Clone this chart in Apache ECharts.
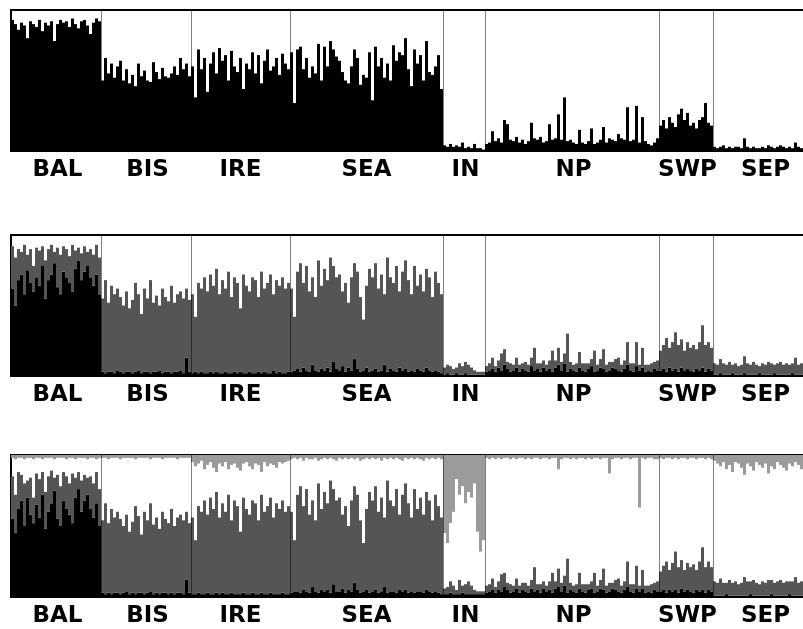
<!DOCTYPE html>
<html>
<head>
<meta charset="utf-8">
<script src="https://cdn.jsdelivr.net/npm/echarts@6/dist/echarts.min.js"></script>
<style>
  html, body { margin: 0; padding: 0; background: #fff; overflow: hidden; }
  #chart { width: 803px; height: 629px; }
</style>
</head>
<body>
<div id="chart"></div>
<script>
// populations, in plot order, and how many individuals each has
const pops = ['BAL', 'BIS', 'IRE', 'SEA', 'IN', 'NP', 'SWP', 'SEP'];
const popSizes = [30, 30, 33, 51, 14, 58, 18, 35];

// K=2 : membership (%) in the black cluster, per individual
const k2Black = [
  93,90,86,91,89,80,92,90,88,93,85,91,89,92,78,90,93,91,92,88,94,90,87,92,93,89,83,91,94,92,
  50,66,55,62,52,60,64,50,58,48,54,46,62,53,57,50,49,63,56,51,59,53,52,55,60,54,66,58,62,53,
  60,38,72,58,66,42,62,70,55,73,64,68,50,71,60,56,66,44,62,58,70,55,68,48,64,72,57,60,66,54,69,62,58,
  70,34,72,74,58,66,52,60,55,76,50,74,60,78,72,67,64,56,50,48,60,72,66,47,54,52,70,36,74,60,
  66,52,62,50,75,64,70,68,80,58,46,72,62,68,50,78,56,54,60,68,44,
  4,3,5,3,4,3,6,2,3,2,5,2,2,1,
  5,6,14,7,9,6,22,19,8,7,10,6,8,5,7,20,9,8,10,6,7,19,8,9,26,8,38,7,8,6,
  5,15,6,5,7,16,5,6,8,17,6,9,8,7,12,9,8,31,7,8,32,6,24,7,5,4,6,9,
  18,22,16,24,20,17,26,30,22,27,18,20,16,22,24,34,20,18,
  3,2,3,4,2,3,2,3,3,2,9,3,2,3,2,2,3,2,4,3,2,3,4,3,2,3,2,6,3,2,3,2,3,2,3
];

// K=3 : black and dark grey clusters (%)
const k3Black = [
  62,50,68,72,58,75,66,60,70,64,78,55,68,72,80,63,58,74,70,66,60,76,82,68,74,78,70,64,72,58,
  3,2,3,3,2,4,3,2,3,3,2,3,4,2,3,3,2,3,3,4,2,3,3,2,3,3,4,2,13,3,
  2,3,2,3,2,2,3,2,3,2,2,3,2,2,3,2,3,2,2,3,2,2,3,2,3,2,2,4,2,3,2,2,3,
  3,4,5,3,6,4,3,8,4,3,5,4,6,3,10,5,4,7,3,6,4,12,5,3,4,6,3,4,5,3,
  4,8,3,5,4,3,6,4,5,3,4,3,5,4,3,6,4,3,4,3,2,
  1,2,1,1,2,1,1,2,1,1,1,1,1,1,
  3,4,5,3,6,4,8,5,3,4,6,3,5,4,3,7,4,5,3,6,4,5,3,6,8,4,9,3,5,4,
  3,6,4,3,5,7,3,4,6,5,3,4,6,5,4,3,5,8,4,3,7,4,6,3,4,3,5,4,
  4,5,3,6,4,5,3,6,4,5,4,3,5,4,6,3,5,4,
  1,1,2,1,1,1,2,1,1,1,2,1,1,1,1,2,1,1,1,1,2,1,1,1,1,1,2,1,1,1,1,2,1,1,1
];
const k3Dark = [
  30,34,22,16,35,11,24,18,21,25,14,27,22,21,8,28,28,18,20,19,33,13,9,19,18,10,20,22,21,26,
  52,66,49,61,56,58,53,48,57,45,52,63,54,42,59,52,66,49,54,46,60,53,50,62,49,55,56,53,49,51,
  56,39,64,59,68,58,69,62,73,56,66,59,72,54,67,64,45,70,62,57,68,66,53,72,59,64,70,54,66,61,68,60,63,
  59,38,69,77,60,74,57,62,52,79,59,72,62,81,68,65,68,53,63,46,66,68,69,53,36,58,73,66,75,59,
  68,50,81,65,62,75,54,70,77,65,54,75,59,68,57,70,66,53,70,63,56,
  5,6,6,4,4,8,6,8,7,5,3,2,2,2,
  4,5,8,4,5,12,11,5,6,4,7,5,4,6,5,6,16,4,6,5,4,6,15,5,12,6,7,27,5,4,
  6,11,5,6,4,5,15,4,6,14,5,6,4,7,9,5,6,16,5,6,17,4,14,5,4,6,5,7,
  14,17,24,14,20,26,19,20,14,19,16,19,14,20,30,19,19,16,
  8,7,10,8,7,9,6,8,6,7,12,8,7,9,7,5,8,7,9,8,6,8,9,7,8,7,7,12,7,8,9,6,8,6,8
];

// K=4 : black, dark grey and light grey (top) clusters (%)
const k4Black = [
  55,45,62,68,50,70,58,52,65,56,72,48,60,66,75,55,50,68,62,58,52,70,76,60,68,72,62,56,66,50,
  3,2,3,2,3,3,2,3,4,2,3,2,3,3,2,3,4,2,3,2,3,3,2,3,2,3,3,2,12,3,
  2,2,3,2,2,3,2,2,3,2,3,2,2,3,2,2,2,3,2,2,3,2,2,3,2,2,3,2,2,2,3,2,2,
  3,4,4,3,5,4,3,7,4,3,5,4,5,3,9,4,4,6,3,5,4,10,5,3,4,5,3,4,5,3,
  4,7,3,4,4,3,5,4,5,3,4,3,4,4,3,5,4,3,4,3,2,
  2,2,3,2,2,2,3,2,2,2,2,2,2,2,
  3,4,5,3,5,4,7,5,3,4,6,3,5,4,3,6,4,5,3,6,4,5,3,6,7,4,8,3,5,4,
  3,6,4,3,5,6,3,4,6,5,3,4,6,5,4,3,5,7,4,3,6,4,6,3,4,3,5,4,
  4,5,3,5,4,5,3,6,4,5,4,3,5,4,5,3,5,4,
  1,1,1,1,2,1,1,1,1,1,1,1,2,1,1,1,1,1,1,2,1,1,1,1,1,2,1,1,1,1,1,1,2,1,1
];
const k4Dark = [
  30,27,26,18,30,12,26,18,22,27,16,26,25,23,9,31,28,20,23,22,35,14,12,22,18,12,23,24,22,26,
  51,64,49,60,53,57,53,47,54,44,50,62,54,41,58,51,62,49,53,46,57,52,50,59,48,53,55,52,48,49,
  54,38,61,58,66,55,68,60,71,54,63,58,70,51,66,62,44,67,60,56,65,64,52,69,58,62,67,54,64,60,65,58,62,
  57,36,68,75,59,72,55,61,50,77,57,70,61,79,67,64,66,52,61,45,64,68,67,51,34,57,71,64,73,57,
  66,49,79,64,60,73,53,68,75,63,52,73,58,66,55,69,64,51,68,61,54,
  4,5,8,6,3,10,5,7,9,6,3,2,2,2,
  5,5,8,4,6,12,10,5,6,4,7,5,5,6,5,6,17,4,6,5,4,6,14,5,13,6,7,24,5,4,
  6,11,5,6,4,5,14,4,6,15,5,6,4,7,9,5,6,18,5,6,16,4,13,5,4,6,5,7,
  14,17,22,14,20,27,18,20,15,19,17,20,14,21,30,18,20,17,
  10,9,12,9,8,11,9,10,8,9,13,10,9,11,9,8,10,9,11,10,9,10,11,9,10,9,10,13,9,10,11,9,10,8,10
];
const k4Light = [
  2,3,2,2,3,2,2,3,2,2,3,2,2,2,3,2,2,2,3,2,2,3,2,2,2,3,2,2,3,2,
  2,2,3,2,2,2,3,2,2,2,2,3,2,2,2,2,3,2,2,2,3,2,2,2,2,3,2,2,2,2,
  5,8,6,4,10,7,5,9,12,6,8,5,10,7,6,9,11,6,5,8,10,6,7,12,5,8,6,7,9,5,6,5,4,
  3,2,3,2,4,2,3,3,2,4,3,2,3,2,3,4,2,3,2,3,2,3,2,4,3,2,3,2,3,2,
  4,2,3,2,3,2,3,4,2,3,2,3,2,3,4,2,3,2,3,2,3,
  55,62,48,40,17,28,22,34,26,30,20,54,68,60,
  2,3,2,3,2,3,2,2,3,2,3,2,2,3,2,3,2,2,3,2,2,3,2,2,10,3,2,2,3,2,
  3,2,2,3,2,3,2,2,3,2,2,13,3,2,2,3,2,2,3,2,2,37,2,3,2,2,3,3,
  2,3,2,2,3,2,3,2,2,3,2,2,3,2,2,3,2,3,
  4,6,8,5,10,7,12,5,6,9,14,6,8,11,5,7,9,6,13,8,10,5,7,9,11,6,8,5,7,10,12,6,9,15,7
];

const BLACK = '#000000';
const DARK = '#555555';
const LIGHT = '#9b9b9b';

const total = popSizes.reduce((a, b) => a + b, 0);
const individuals = Array.from({ length: total }, (_, i) => String(i));

// population name placed under the middle individual of each population
const tickNames = new Array(total).fill('');
const bounds = [];
let start = 0;
popSizes.forEach((n, i) => {
  tickNames[start + Math.floor(n / 2)] = pops[i];
  start += n;
  if (i < popSizes.length - 1) bounds.push(start);
});

// remainder shown as white between dark grey and light grey (K=4)
const k4White = k4Black.map((v, i) => 100 - v - k4Dark[i] - k4Light[i]);

const panelTops = [10, 235, 455];
const panelHeights = [141, 141, 142];

const chart = echarts.init(document.getElementById('chart'));

// each individual gets 3px; the last population runs past the right edge
const grids = panelTops.map((t, i) => ({
  left: 11, width: total * 3, top: t, height: panelHeights[i],
  outerBoundsMode: 'none', containLabel: false,
  show: true, borderColor: '#000', borderWidth: 2, backgroundColor: 'transparent'
}));

const xAxes = [];
const yAxes = [];
panelTops.forEach((_, i) => {
  xAxes.push({
    type: 'category', gridIndex: i, data: individuals, boundaryGap: true,
    axisLine: { show: false }, axisTick: { show: false },
    axisLabel: {
      interval: 0, margin: 8, color: '#000', fontFamily: 'DejaVu Sans', fontWeight: 'bold', fontSize: 23,
      formatter: (v, idx) => tickNames[idx]
    }
  });
  xAxes.push({ type: 'value', gridIndex: i, min: 0, max: total, show: false });
  yAxes.push({ type: 'value', gridIndex: i, min: 0, max: 100, show: false });
});

const bar = (panel, data, color) => ({
  type: 'bar', xAxisIndex: panel * 2, yAxisIndex: panel, stack: 'k' + panel,
  data: data, barCategoryGap: '0%', barWidth: 3, itemStyle: { color: color }, silent: true
});

const separators = panel => ({
  type: 'scatter', xAxisIndex: panel * 2 + 1, yAxisIndex: panel, data: [[0, 0]], symbolSize: 0, z: 5,
  markLine: {
    silent: true, symbol: ['none', 'none'], label: { show: false },
    lineStyle: { color: 'rgba(0,0,0,0.5)', width: 1, type: 'solid' },
    data: bounds.map(b => ({ xAxis: b }))
  }
});

chart.setOption({
  animation: false,
  backgroundColor: '#fff',
  grid: grids,
  xAxis: xAxes,
  yAxis: yAxes,
  series: [
    bar(0, k2Black, BLACK),
    bar(1, k3Black, BLACK),
    bar(1, k3Dark, DARK),
    bar(2, k4Black, BLACK),
    bar(2, k4Dark, DARK),
    bar(2, k4White, 'rgba(0,0,0,0)'),
    bar(2, k4Light, LIGHT),
    separators(0),
    separators(1),
    separators(2)
  ]
});
</script>
</body>
</html>
